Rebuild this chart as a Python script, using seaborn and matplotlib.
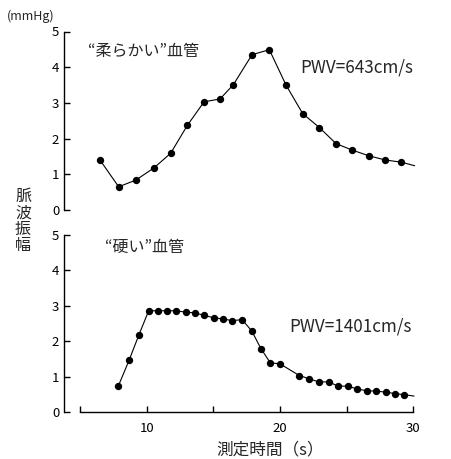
import matplotlib
matplotlib.use("Agg")
import matplotlib.pyplot as plt
import numpy as np
import pandas as pd
import seaborn as sns

# ======== data ==============================================
# "soft" vessel
soft_t = [6.5, 7.9, 9.2, 10.55, 11.8, 13.05, 14.3, 15.5, 16.5, 17.9,
          19.2, 20.45, 21.7, 22.95, 24.2, 25.4, 26.65, 27.9, 29.1]
soft_amp = [1.40, 0.65, 0.84, 1.18, 1.59, 2.37, 3.03, 3.11, 3.51, 4.35,
            4.49, 3.50, 2.70, 2.31, 1.86, 1.68, 1.52, 1.40, 1.34]
soft_end = (30.1, 1.24)

# "stiff" vessel
hard_t = [7.87, 8.69, 9.42, 10.15, 10.83, 11.52, 12.22, 12.93, 13.62, 14.32,
          15.03, 15.72, 16.42, 17.15, 17.88, 18.57, 19.27, 20.0, 21.45, 22.18,
          22.9, 23.65, 24.37, 25.07, 25.8, 26.5, 27.22, 27.95, 28.62, 29.3]
hard_amp = [0.73, 1.47, 2.18, 2.86, 2.86, 2.86, 2.86, 2.82, 2.80, 2.73,
            2.66, 2.63, 2.58, 2.61, 2.29, 1.79, 1.39, 1.36, 1.03, 0.94,
            0.85, 0.85, 0.73, 0.73, 0.65, 0.60, 0.59, 0.56, 0.52, 0.49]
hard_end = (30.05, 0.45)

y_ticks = [0, 1, 2, 3, 4, 5]
x_ticks = [5, 10, 15, 20, 25, 30]
x_ticklabels = ["", "10", "", "20", "", "30"]

sns.set_style("white")
plt.rcParams['font.family'] = ['Noto Sans CJK JP', 'DejaVu Sans']

W, H = 451, 459
fig = plt.figure(figsize=(W / 100, H / 100), dpi=100)

x0, x1 = 3.8, 31.0
ax_left = 64 / W
ax_w = (426.7 - 64) / W
ax_top = fig.add_axes([ax_left, 1 - 210 / H, ax_w, (210 - 31.5) / H])
ax_bot = fig.add_axes([ax_left, 1 - 412 / H, ax_w, (412 - 235) / H])


def draw_series(ax, t, amp, end):
    line_df = pd.DataFrame({"t": list(t) + [end[0]], "amp": list(amp) + [end[1]]})
    sns.lineplot(data=line_df, x="t", y="amp", ax=ax, color="black",
                 linewidth=0.8, sort=False, estimator=None)
    pts = pd.DataFrame({"t": t, "amp": amp})
    sns.scatterplot(data=pts, x="t", y="amp", ax=ax, color="black",
                    s=28, edgecolor="black", linewidth=0, zorder=3)


def style_axis(ax, show_x):
    ax.set_xlim(x0, x1)
    ax.set_ylim(0, 5)
    ax.set_yticks(y_ticks)
    ax.set_yticklabels([str(v) for v in y_ticks])
    ax.set_xlabel("")
    ax.set_ylabel("")
    for s in ["top", "right"]:
        ax.spines[s].set_visible(False)
    ax.spines["left"].set_bounds(0, 5)
    ax.spines["left"].set_linewidth(1.0)
    ax.spines["left"].set_color("black")
    ax.tick_params(axis="y", direction="in", length=4, width=1.0,
                   pad=3.5, labelsize=9.5, colors="black", left=True)
    if show_x:
        ax.spines["bottom"].set_bounds(5, 30)
        ax.spines["bottom"].set_linewidth(1.0)
        ax.spines["bottom"].set_color("black")
        ax.set_xticks(x_ticks)
        ax.set_xticklabels(x_ticklabels)
        ax.tick_params(axis="x", direction="in", length=4, width=1.0,
                       pad=7, labelsize=9.5, colors="black", bottom=True)
    else:
        ax.spines["bottom"].set_visible(False)
        ax.set_xticks([])


draw_series(ax_top, soft_t, soft_amp, soft_end)
draw_series(ax_bot, hard_t, hard_amp, hard_end)
style_axis(ax_top, False)
style_axis(ax_bot, True)

ax_top.text(5.6, 4.45, "“柔らかい”血管", fontsize=11.5, va="center", ha="left")
ax_top.text(21.5, 4.0, "PWV=643cm/s", fontsize=12.3, va="center", ha="left")
ax_bot.text(6.9, 4.65, "“硬い”血管", fontsize=11.5, va="center", ha="left")
ax_bot.text(20.7, 2.42, "PWV=1401cm/s", fontsize=12.3, va="center", ha="left")

fig.text(31 / W, 1 - 16 / H, "(mmHg)", fontsize=9, ha="center", va="center")
fig.text(23 / W, 1 - 221 / H, "脈\n波\n振\n幅", fontsize=11.5, ha="center",
         va="center", linespacing=0.95)
fig.text(270 / W, 1 - 450 / H, "測定時間（s）", fontsize=12, ha="center", va="center")

plt.savefig("out.png", dpi=100)
plt.close()
